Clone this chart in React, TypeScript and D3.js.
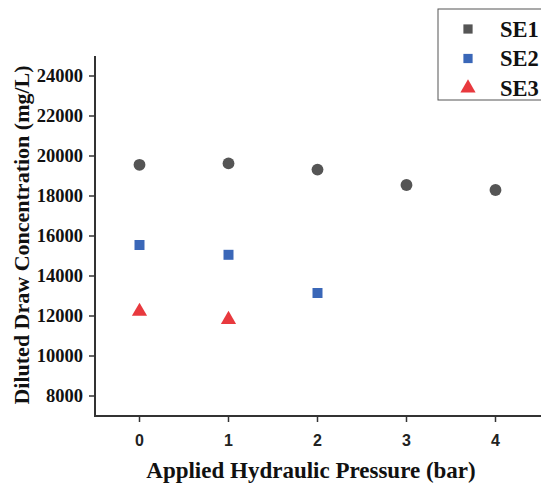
import React from 'react';
import * as d3 from 'd3';

const pressures = [0, 1, 2, 3, 4];
const se1 = [19560, 19630, 19320, 18550, 18300];
const se2 = [15550, 15060, 13150];
const se3 = [12230, 11820];
const yTicks = [8000, 10000, 12000, 14000, 16000, 18000, 20000, 22000, 24000];
const seriesNames = ['SE1', 'SE2', 'SE3'];

const W = 541, H = 487;
const serif = '"Liberation Serif", "Times New Roman", serif';
const sans = '"Liberation Sans", Arial, sans-serif';
const axisColor = '#333';
const colors = ['#555555', '#3a67b8', '#e8393e'];

export default function App() {
  const x = d3.scaleLinear().domain([-0.5, 4.5]).range([95, 540]);
  const y = d3.scaleLinear().domain([7000, 25000]).range([416, 56]);

  const circle = d3.symbol().type(d3.symbolCircle).size(110);
  const square = d3.symbol().type(d3.symbolSquare).size(100);
  const tri = d3.symbol().type(d3.symbolTriangle).size(100);
  const legendSquare = d3.symbol().type(d3.symbolSquare).size(85);

  const legendY = d3.scalePoint().domain(seriesNames).range([29, 88]);

  return (
    <svg width={W} height={H} style={{ position: 'absolute', left: 0, top: 0 }}>
      <rect width={W} height={H} fill="white" />
      {/* axes */}
      <line x1={95} x2={95} y1={y(25000)} y2={y(7000)} stroke={axisColor} strokeWidth={2} />
      <line x1={94} x2={541} y1={y(7000)} y2={y(7000)} stroke={axisColor} strokeWidth={2} />
      {yTicks.map(t => (
        <g key={t}>
          <line x1={89} x2={95} y1={y(t)} y2={y(t)} stroke={axisColor} strokeWidth={1.5} />
          <text x={83} y={y(t)} dy="0.34em" textAnchor="end" fontFamily={serif} fontWeight="bold" fontSize={18.5} fill="#111">{t}</text>
        </g>
      ))}
      {pressures.map(p => (
        <g key={p}>
          <line x1={x(p)} x2={x(p)} y1={y(7000)} y2={y(7000) + 6} stroke={axisColor} strokeWidth={1.5} />
          <text x={x(p)} y={446} textAnchor="middle" fontFamily={sans} fontWeight="bold" fontSize={16} fill="#222">{p}</text>
        </g>
      ))}
      <text x={311} y={478} textAnchor="middle" fontFamily={serif} fontWeight="bold" fontSize={23} fill="#111">Applied Hydraulic Pressure (bar)</text>
      <text transform={`translate(29,${y(16050)}) rotate(-90)`} textAnchor="middle" fontFamily={serif} fontWeight="bold" fontSize={22} fill="#111">Diluted Draw Concentration (mg/L)</text>

      {/* data */}
      {se1.map((v, i) => (
        <path key={'a' + i} d={circle() as string} transform={`translate(${x(pressures[i])},${y(v)})`} fill={colors[0]} />
      ))}
      {se2.map((v, i) => (
        <path key={'b' + i} d={square() as string} transform={`translate(${x(pressures[i])},${y(v)})`} fill={colors[1]} />
      ))}
      {se3.map((v, i) => (
        <path key={'c' + i} d={tri() as string} transform={`translate(${x(pressures[i])},${y(v)})`} fill={colors[2]} />
      ))}

      {/* legend */}
      <rect x={438} y={9} width={110} height={91} fill="white" stroke="#555" strokeWidth={1} />
      {seriesNames.map((s, i) => (
        <g key={s} transform={`translate(0,${legendY(s)})`}>
          <path d={(i === 2 ? tri : legendSquare)() as string} transform="translate(468,0)" fill={colors[i]} />
          <text x={500} y={0} dy="0.34em" fontFamily={serif} fontWeight="bold" fontSize={22.5} fill="#111">{s}</text>
        </g>
      ))}
    </svg>
  );
}
